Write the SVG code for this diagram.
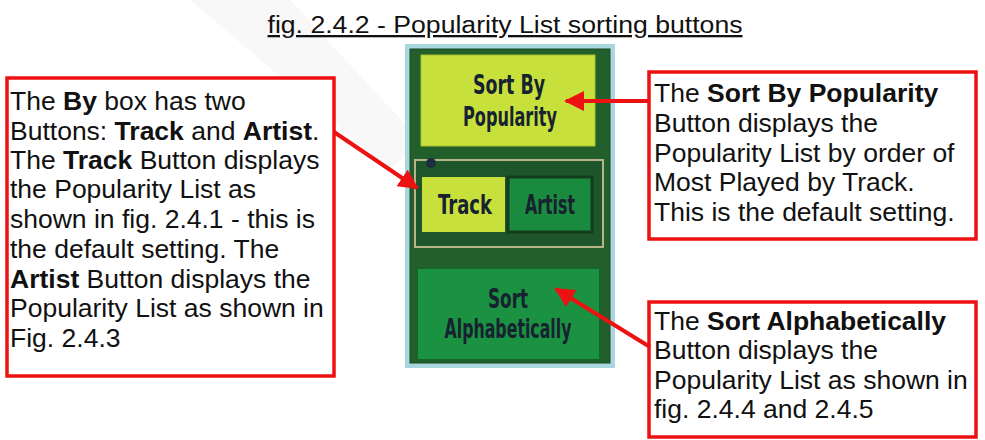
<svg xmlns="http://www.w3.org/2000/svg" width="985" height="440" viewBox="0 0 985 440">
<style>
.note{fill:#ffffff;stroke:#ee1111;stroke-width:3.5}
.t{font-family:"Liberation Sans",Arial,sans-serif;font-size:26.5px;fill:#111}
.b{font-weight:bold}
.btn{font-family:"DejaVu Sans",sans-serif;font-weight:bold;font-size:26px;fill:#172230;text-anchor:middle}
.arrow{stroke:#ee1111;stroke-width:4;fill:none}
</style>
<defs>
<marker id="ah" viewBox="0 0 10 10" refX="9" refY="5" markerWidth="5" markerHeight="5" markerUnits="strokeWidth" orient="auto">
<path d="M0,0 L10,5 L0,10 z" fill="#ee1111"/>
</marker>
</defs>
<rect width="985" height="440" fill="#ffffff"/>
<polygon points="190,0 290,0 420,140 390,170" fill="#d8d8d8" opacity="0.18"/>
<text x="505" y="33" font-family="'Liberation Sans',Arial,sans-serif" font-size="23" fill="#111" text-anchor="middle" text-decoration="underline" textLength="475" lengthAdjust="spacingAndGlyphs">fig. 2.4.2 - Popularity List sorting buttons</text>

<g id="panel">
<rect x="405" y="44" width="210" height="324" fill="#a9d6df"/>
<rect x="410" y="49" width="200" height="314" fill="#225f2b" stroke="#1a4a22" stroke-width="1"/>
</g>
<g id="sortByPopularity">
<rect x="421" y="55" width="174" height="91" fill="#c7e03c" stroke="#a9c22c" stroke-width="1"/>
<text class="btn" x="509" y="94" textLength="72" lengthAdjust="spacingAndGlyphs">Sort By</text>
<text class="btn" x="510" y="126" textLength="94" lengthAdjust="spacingAndGlyphs">Popularity</text>
</g>
<g id="byBox">
<rect x="415" y="160" width="188" height="87" fill="#1f552a" stroke="#b7b48c" stroke-width="2"/>
<circle cx="431" cy="163" r="5" fill="#1a2f40"/>
</g>
<g id="track">
<rect x="422" y="177" width="83" height="55" fill="#c7e03c"/>
<text class="btn" x="465" y="214" textLength="54" lengthAdjust="spacingAndGlyphs">Track</text>
</g>
<g id="artist">
<rect x="508" y="177" width="84" height="55" fill="#1a8a3e" stroke="#143d1e" stroke-width="3"/>
<text class="btn" x="550" y="214" fill="#173018" textLength="50" lengthAdjust="spacingAndGlyphs">Artist</text>
</g>
<g id="sortAlphabetically">
<rect x="417" y="268" width="183" height="92" fill="#1b9142" stroke="#17632c" stroke-width="2"/>
<text class="btn" x="508" y="308" fill="#162a1c" textLength="40" lengthAdjust="spacingAndGlyphs">Sort</text>
<text class="btn" x="508" y="338" fill="#162a1c" textLength="127" lengthAdjust="spacingAndGlyphs">Alphabetically</text>
</g>

<g id="noteBy">
<rect class="note" x="7" y="78" width="327" height="298"/>
<text class="t" x="10" y="110">The <tspan class="b">By</tspan> box has two</text>
<text class="t" x="10" y="140">Buttons: <tspan class="b">Track</tspan> and <tspan class="b">Artist</tspan>.</text>
<text class="t" x="10" y="169">The <tspan class="b">Track</tspan> Button displays</text>
<text class="t" x="10" y="198">the Popularity List as</text>
<text class="t" x="10" y="228">shown in fig. 2.4.1 - this is</text>
<text class="t" x="10" y="258">the default setting. The</text>
<text class="t" x="10" y="288"><tspan class="b">Artist</tspan> Button displays the</text>
<text class="t" x="10" y="317">Popularity List as shown in</text>
<text class="t" x="10" y="347">Fig. 2.4.3</text>
</g>

<g id="noteSortPop">
<rect class="note" x="649" y="72" width="327" height="167"/>
<text class="t" x="654" y="102">The <tspan class="b">Sort By Popularity</tspan></text>
<text class="t" x="654" y="132">Button displays the</text>
<text class="t" x="654" y="162">Popularity List by order of</text>
<text class="t" x="654" y="191">Most Played by Track.</text>
<text class="t" x="654" y="221">This is the default setting.</text>
</g>

<g id="noteSortAlpha">
<rect class="note" x="649" y="302" width="327" height="135"/>
<text class="t" x="654" y="330">The <tspan class="b">Sort Alphabetically</tspan></text>
<text class="t" x="654" y="359">Button displays the</text>
<text class="t" x="654" y="389">Popularity List as shown in</text>
<text class="t" x="654" y="418">fig. 2.4.4 and 2.4.5</text>
</g>

<g id="connectors">
<line class="arrow" x1="649" y1="101" x2="566" y2="101" marker-end="url(#ah)"/>
<line class="arrow" x1="334" y1="132" x2="417" y2="188" marker-end="url(#ah)"/>
<line class="arrow" x1="650" y1="347" x2="556" y2="289" marker-end="url(#ah)"/>
</g>
</svg>
